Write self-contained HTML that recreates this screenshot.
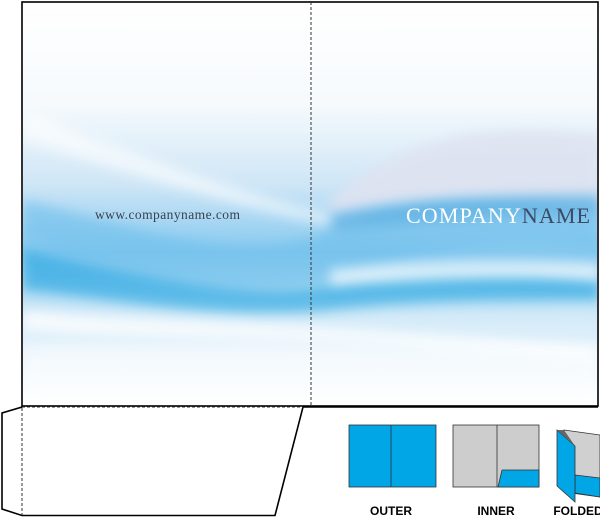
<!DOCTYPE html>
<html><head><style>
body{margin:0;width:600px;height:517px;background:#fff;overflow:hidden;font-family:"Liberation Sans",sans-serif}
</style></head><body>
<svg width="600" height="517" viewBox="0 0 600 517" xmlns="http://www.w3.org/2000/svg">
<defs>
<filter id="b" x="-20%" y="-50%" width="140%" height="200%"><feGaussianBlur stdDeviation="6"/></filter>
<clipPath id="c"><rect x="23" y="3" width="574" height="402"/></clipPath>
<linearGradient id="bg" x1="0" y1="0" x2="0" y2="1">
<stop offset="0" stop-color="#fff"/><stop offset="0.25" stop-color="#f6fafd"/><stop offset="0.45" stop-color="#cfe6f6"/><stop offset="0.62" stop-color="#86c9ef"/><stop offset="0.78" stop-color="#d3eaf8"/><stop offset="1" stop-color="#fff"/>
</linearGradient>
</defs>
<g clip-path="url(#c)">
<rect x="23" y="3" width="574" height="402" fill="url(#bg)"/>
<path d="M23 200 C150 230 250 270 330 230 C420 190 520 200 600 210 L600 250 C500 240 420 250 330 280 C230 300 120 270 23 240Z" fill="#6fc0ec" opacity="0.6" filter="url(#b)"/>
<path d="M23 250 C150 275 250 300 330 285 C430 265 520 270 600 280 L600 300 C500 300 420 300 330 310 C220 320 120 300 23 290Z" fill="#1ea2e0" opacity="0.6" filter="url(#b)"/>
<path d="M330 200 C400 140 480 120 600 135 L600 200 C500 195 420 195 330 215Z" fill="#dfe3f1" opacity="0.9" filter="url(#b)"/>
<path d="M330 215 C400 200 470 195 600 195 L600 215 C480 215 400 225 330 230Z" fill="#5aaee2" opacity="0.7" filter="url(#b)"/>
<path d="M23 310 C150 325 300 320 600 350 L600 360 C300 335 150 340 23 330Z" fill="#fff" opacity="0.8" filter="url(#b)"/>
<path d="M23 110 C120 150 230 190 330 215 L330 225 C230 205 120 170 23 140Z" fill="#fff" opacity="0.6" filter="url(#b)"/>
<path d="M330 270 C430 260 520 260 600 265 L600 280 C520 275 430 280 330 285Z" fill="#fff" opacity="0.7" filter="url(#b)"/>
<rect x="23" y="345" width="574" height="70" fill="#fff" opacity="0.5" filter="url(#b)"/>
</g>
<text x="95" y="219" font-family="Liberation Serif,serif" font-size="13.5" fill="#3a4050" textLength="145">www.companyname.com</text>
<text x="406" y="223" font-family="Liberation Serif,serif" font-size="22" fill="#fff" textLength="184">COMPANY<tspan fill="#3d4a66">NAME</tspan></text>
<rect x="22" y="2" width="576" height="404" fill="none" stroke="#000" stroke-width="1.6"/>
<line x1="311" y1="2" x2="311" y2="406" stroke="#333" stroke-width="1" stroke-dasharray="3,2"/>
<path d="M22 406 L22 407 L2 413 L2 509 L22 515.5 L275 515.5 L303 407 L598 407" fill="none" stroke="#000" stroke-width="1.6"/>
<line x1="22" y1="407" x2="303" y2="407" stroke="#333" stroke-dasharray="3,2"/>
<line x1="22" y1="408" x2="22" y2="515" stroke="#333" stroke-dasharray="3,2"/>
<rect x="349" y="425" width="87" height="62" fill="#00a6e6" stroke="#333" stroke-width="0.8"/>
<line x1="391" y1="425" x2="391" y2="487" stroke="#333" stroke-width="0.8"/>
<rect x="453" y="425" width="86" height="62" fill="#cdcdcd" stroke="#333" stroke-width="0.8"/>
<line x1="497" y1="425" x2="497" y2="487" stroke="#333" stroke-width="0.8"/>
<path d="M498 487 L502 470 L539 470 L539 487Z" fill="#00a6e6" stroke="#333" stroke-width="0.8"/>
<path d="M564 430 L600 435 L600 497 L564 492Z" fill="#d0d0d0" stroke="#333" stroke-width="0.8"/>
<path d="M575 475 L600 478 L600 497 L575 493Z" fill="#00a6e6" stroke="#333" stroke-width="0.8"/>
<path d="M557 430 L575 446 L575 502 L557 486Z" fill="#00a6e6" stroke="#333" stroke-width="0.8"/>
<path d="M557 430 L564 430 L575 446Z" fill="#666"/>
<g font-weight="bold" font-size="12" fill="#000" text-anchor="middle">
<text x="391" y="515">OUTER</text><text x="496" y="515">INNER</text><text x="578" y="515">FOLDED</text>
</g>
</svg>
</body></html>
